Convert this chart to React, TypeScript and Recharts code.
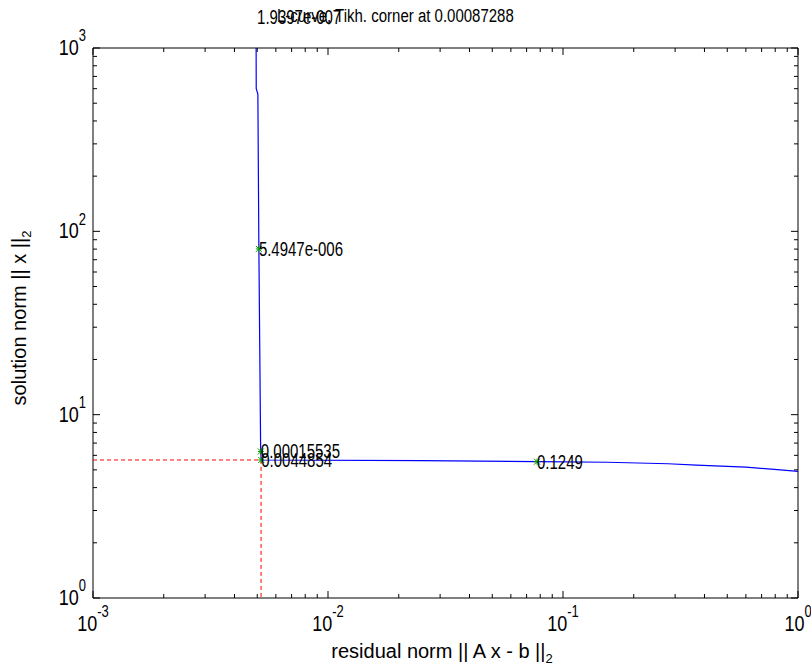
import { ComposedChart, Line, Scatter, XAxis, YAxis, ReferenceArea, ReferenceDot } from "recharts";

const W = 811;
const H = 668;
const X_AXIS_H = 30;
const Y_AXIS_W = 60;
const MARGIN = { top: 48, right: 13, bottom: 70 - X_AXIS_H, left: 93 - Y_AXIS_W };
const FONT = "'Liberation Sans', Arial, sans-serif";

// L-curve (residual norm vs solution norm)
const curveResidual = [0.00494, 0.00495, 0.00503, 0.00508, 0.00517, 0.0052, 0.025, 0.0775, 0.155, 0.28, 0.37, 0.6, 0.84, 1.0];
const curveSolution = [1500, 600, 560, 80.2, 6.3, 5.66, 5.62, 5.54, 5.5, 5.4, 5.3, 5.18, 5.0, 4.9];

// marked regularization parameters
const markerResidual = [0.00499, 0.00508, 0.00518, 0.0052, 0.0775];
const markerSolution = [1480, 80.2, 6.3, 5.66, 5.54];
const markerLabels = ["1.9397e-007", "5.4947e-006", "0.00015535", "0.0044854", "0.1249"];

// corner
const cornerResidual = 0.00519;
const cornerSolution = 5.66;

const xMajor = [0.001, 0.01, 0.1, 1];
const yMajor = [1, 10, 100, 1000];

function withMinor(major: number[]) {
  const out: number[] = [];
  major.forEach((m, i) => {
    out.push(m);
    if (i < major.length - 1) {
      for (let k = 2; k <= 9; k++) out.push(m * k);
    }
  });
  return out;
}

const xTicks = withMinor(xMajor);
const yTicks = withMinor(yMajor);

const curveData = curveResidual.map((x, i) => ({ x, y: curveSolution[i] }));
const markerData = markerResidual.map((x, i) => ({ x, y: markerSolution[i] }));
const cornerData = [
  { x: 0.001, y: cornerSolution },
  { x: cornerResidual, y: cornerSolution },
  { x: cornerResidual, y: 1 },
];

function isMajor(v: number) {
  const l = Math.log10(v);
  return Math.abs(l - Math.round(l)) < 1e-6;
}

function XTick(props: any) {
  const { x, payload } = props;
  const y = H - 70;
  const major = isMajor(payload.value);
  const len = major ? 7 : 4;
  return (
    <g>
      <line x1={x} y1={y} x2={x} y2={y - len} stroke="#000" />
      <line x1={x} y1={MARGIN.top} x2={x} y2={MARGIN.top + len} stroke="#000" />
      {major && (
        <text
          textAnchor="middle"
          fontFamily={FONT}
          fontSize={18}
          fill="#000"
          transform={`translate(${x},${y + 33}) scale(1,1.25)`}
        >
          10
          <tspan fontSize={13} dy={-11}>
            {Math.round(Math.log10(payload.value))}
          </tspan>
        </text>
      )}
    </g>
  );
}

function YTick(props: any) {
  const { y, payload } = props;
  const x = MARGIN.left + Y_AXIS_W;
  const major = isMajor(payload.value);
  const len = major ? 7 : 4;
  const right = W - MARGIN.right;
  return (
    <g>
      <line x1={x} y1={y} x2={x + len} y2={y} stroke="#000" />
      <line x1={right} y1={y} x2={right - len} y2={y} stroke="#000" />
      {major && (
        <text
          textAnchor="end"
          fontFamily={FONT}
          fontSize={18}
          fill="#000"
          transform={`translate(${x - 7},${y + 7}) scale(1,1.25)`}
        >
          10
          <tspan fontSize={13} dy={-11}>
            {Math.round(Math.log10(payload.value))}
          </tspan>
        </text>
      )}
    </g>
  );
}

function Asterisk(props: any) {
  const { cx, cy } = props;
  const r = 3;
  return (
    <g stroke="#00a000" strokeWidth={1}>
      <line x1={cx - r} y1={cy} x2={cx + r} y2={cy} />
      <line x1={cx} y1={cy - r} x2={cx} y2={cy + r} />
      <line x1={cx - r} y1={cy - r} x2={cx + r} y2={cy + r} />
      <line x1={cx - r} y1={cy + r} x2={cx + r} y2={cy - r} />
    </g>
  );
}

function PointLabel(text: string) {
  return (props: any) => (
    <text
      transform={`translate(${props.cx},${props.cy}) scale(1,1.3)`}
      dy="0.35em"
      fontFamily={FONT}
      fontSize={15}
      fill="#000"
    >
      {text}
    </text>
  );
}

export default function App() {
  return (
    <div style={{ position: "absolute", left: 0, top: 0, width: W, height: H, background: "#fff" }}>
      <ComposedChart width={W} height={H} margin={MARGIN}>
        <XAxis
          dataKey="x"
          type="number"
          scale="log"
          domain={[0.001, 1]}
          allowDataOverflow
          ticks={xTicks}
          interval={0}
          height={X_AXIS_H}
          tickLine={false}
          axisLine={false}
          tick={(p: any) => <XTick {...p} />}
        />
        <YAxis
          dataKey="y"
          type="number"
          scale="log"
          domain={[1, 1000]}
          allowDataOverflow
          ticks={yTicks}
          interval={0}
          width={Y_AXIS_W}
          tickLine={false}
          axisLine={false}
          tick={(p: any) => <YTick {...p} />}
        />
        <ReferenceArea x1={0.001} x2={1} y1={1} y2={1000} fill="none" stroke="#000" strokeWidth={1} />
        <Scatter data={markerData} dataKey="y" shape={<Asterisk />} isAnimationActive={false} />
        <Line
          data={cornerData}
          dataKey="y"
          stroke="#ff0000"
          strokeDasharray="4 3"
          dot={false}
          activeDot={false}
          isAnimationActive={false}
        />
        <Line
          data={curveData}
          dataKey="y"
          stroke="#0000ff"
          strokeWidth={1.2}
          dot={false}
          activeDot={false}
          isAnimationActive={false}
        />
        {markerData.map((p, i) => (
          <ReferenceDot
            key={markerLabels[i]}
            x={p.x}
            y={p.y}
            ifOverflow="visible"
            shape={PointLabel(markerLabels[i])}
          />
        ))}
      </ComposedChart>
      <div
        style={{
          position: "absolute",
          left: 277,
          top: 5,
          fontFamily: FONT,
          fontSize: 15,
          whiteSpace: "nowrap",
          lineHeight: "18px",
          transform: "scale(1,1.2)",
          transformOrigin: "left top",
        }}
      >
        L-curve, Tikh. corner at 0.00087288
      </div>
      <div
        style={{
          position: "absolute",
          left: 0,
          width: 884,
          top: 640,
          textAlign: "center",
          fontFamily: FONT,
          fontSize: 20,
          whiteSpace: "nowrap",
          lineHeight: "22px",
        }}
      >
        residual norm || A x - b ||<sub style={{ fontSize: 13 }}>2</sub>
      </div>
      <div
        style={{
          position: "absolute",
          left: 8,
          top: 318,
          fontFamily: FONT,
          fontSize: 20,
          whiteSpace: "nowrap",
          lineHeight: "22px",
          transform: "translate(-50%, -50%) rotate(-90deg) translate(0, 50%)",
          transformOrigin: "center",
        }}
      >
        solution norm || x ||<sub style={{ fontSize: 13 }}>2</sub>
      </div>
    </div>
  );
}
